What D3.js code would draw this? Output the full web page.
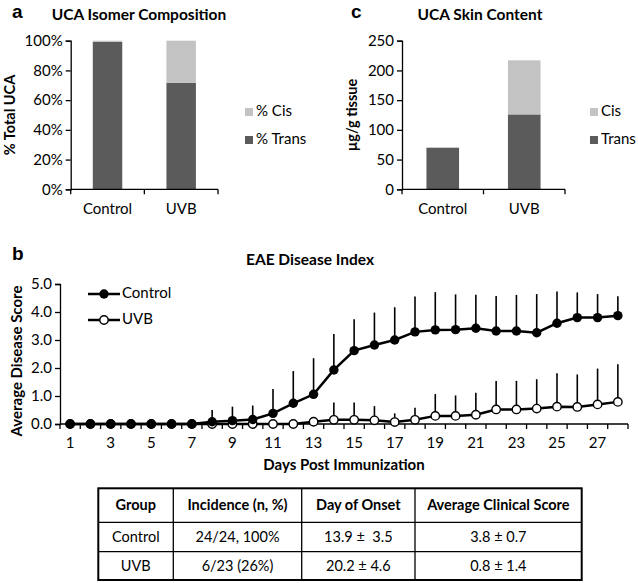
<!DOCTYPE html>
<html><head><meta charset="utf-8">
<script src="https://cdn.jsdelivr.net/npm/d3@7"></script>
<style>
body{margin:0;background:#fff;}
svg{display:block;font-family:Lato,"Open Sans",sans-serif;}
</style></head>
<body>
<svg id="chart" width="638" height="583"></svg>
<script>
// ---------- Data ----------
const groups = ["Control", "UVB"];
const isomerTrans = [0.993, 0.717];
const isomerCis = [0.007, 0.283];
const contentTrans = [70, 126];
const contentCis = [0, 91];
const pctTicks = [0, 0.2, 0.4, 0.6, 0.8, 1.0];
const contentTicks = [0, 50, 100, 150, 200, 250];

const days = d3.range(1, 29);
const controlMean = [0,0,0,0,0,0,0,0.08,0.12,0.16,0.38,0.74,1.06,1.93,2.62,2.82,3.0,3.29,3.36,3.37,3.42,3.32,3.32,3.26,3.6,3.8,3.8,3.87];
const controlErr  = [0,0,0,0,0,0,0,0.42,0.5,0.5,0.87,1.15,1.29,1.28,1.12,1.16,1.17,1.26,1.35,1.26,1.2,1.25,1.29,1.38,1.13,0.9,0.84,0.69];
const uvbMean = [0,0,0,0,0,0,0,0,0,0,0,0,0.08,0.15,0.15,0.13,0.07,0.15,0.29,0.29,0.33,0.52,0.52,0.55,0.62,0.61,0.70,0.79];
const uvbErr  = [0,0,0,0,0,0,0,0,0,0,0,0,0.06,0.62,0.62,0.51,0.31,0.43,0.78,0.73,0.79,1.02,1.02,1.05,1.19,1.16,1.28,1.34];
const scoreTicks = [0,1,2,3,4,5];

const tableHeader = ["Group", "Incidence (n, %)", "Day of Onset", "Average Clinical Score"];
const tableRows = [
  ["Control", "24/24, 100%", "13.9 \u00b1  3.5", "3.8 \u00b1 0.7"],
  ["UVB", "6/23 (26%)", "20.2 \u00b1 4.6", "0.8 \u00b1 1.4"]
];

const DARK = "#5b5b5b", LIGHT = "#c3c3c3";
const FS = 15;
const svg = d3.select("#chart");

function boldText(x, y, t, size, anchor) {
  return svg.append("text").attr("x", x).attr("y", y).attr("font-size", size)
    .attr("font-weight", "bold").attr("text-anchor", anchor || "middle")
    .attr("dominant-baseline", "middle").text(t);
}

// ---------- Stacked bar panel ----------
function barPanel(opt) {
  const g = svg.append("g");
  const y = d3.scaleLinear().domain(opt.domain).range([189.3, 40.7]);
  const x = d3.scaleBand().domain(groups).range(opt.xr).paddingInner(0.6).paddingOuter(0.3);
  groups.forEach((grp, i) => {
    const t = opt.trans[i], c = opt.cis[i];
    g.append("rect").attr("x", x(grp)).attr("width", x.bandwidth())
      .attr("y", y(t)).attr("height", y(0) - y(t)).attr("fill", DARK);
    if (c > 0) g.append("rect").attr("x", x(grp)).attr("width", x.bandwidth())
      .attr("y", y(t + c)).attr("height", y(t) - y(t + c)).attr("fill", LIGHT);
  });
  const ya = g.append("g").attr("transform", `translate(${opt.xr[0]},0)`)
    .call(d3.axisLeft(y).tickValues(opt.ticks).tickFormat(opt.fmt).tickSize(5).tickPadding(3));
  ya.selectAll("text").attr("font-size", FS).attr("fill", "#000").attr("font-family", "Lato,sans-serif");
  ya.selectAll("line,path").attr("stroke", "#000").attr("stroke-width", 1.3);
  const xa = g.append("g");
  xa.append("line").attr("x1", opt.xr[0]).attr("x2", opt.xr[1]).attr("y1", y(0)).attr("y2", y(0))
    .attr("stroke", "#000").attr("stroke-width", 1.3);
  const bounds = [opt.xr[0], (opt.xr[0] + opt.xr[1]) / 2, opt.xr[1]];
  bounds.forEach(b => xa.append("line").attr("x1", b).attr("x2", b).attr("y1", y(0)).attr("y2", y(0) + 5)
    .attr("stroke", "#000").attr("stroke-width", 1.3));
  groups.forEach(grp => svg.append("text").attr("x", x(grp) + x.bandwidth() / 2).attr("y", 210)
    .attr("font-size", FS).attr("text-anchor", "middle").attr("dominant-baseline", "middle").text(grp));
  boldText(opt.letterX, 13, opt.letter, 19, "start").attr("font-family", "Liberation Sans, Arial, sans-serif");
  boldText(opt.titleX, 16, opt.title, 15.5);
  svg.append("text").attr("transform", `translate(${opt.yTitleX},115) rotate(-90)`)
    .attr("font-size", 14.5).attr("font-weight", "bold").attr("text-anchor", "middle")
    .attr("dominant-baseline", "middle").text(opt.yTitle);
  [[opt.legend[0], LIGHT, 112], [opt.legend[1], DARK, 140]].forEach(([lab, col, ly]) => {
    svg.append("rect").attr("x", opt.legX).attr("y", ly - 4).attr("width", 8).attr("height", 8).attr("fill", col);
    svg.append("text").attr("x", opt.legX + 11).attr("y", ly).attr("font-size", FS)
      .attr("dominant-baseline", "middle").text(lab);
  });
}

barPanel({domain: [0, 1], xr: [70.7, 218], trans: isomerTrans, cis: isomerCis, ticks: pctTicks,
  fmt: d3.format(".0%"), letter: "a", letterX: 12, title: "UCA Isomer Composition", titleX: 139,
  yTitle: "% Total UCA", yTitleX: 11, legend: ["% Cis", "% Trans"], legX: 245});
barPanel({domain: [0, 250], xr: [402, 565], trans: contentTrans, cis: contentCis, ticks: contentTicks,
  fmt: d3.format("d"), letter: "c", letterX: 351, title: "UCA Skin Content", titleX: 480,
  yTitle: "\u00b5g/g tissue", yTitleX: 353, legend: ["Cis", "Trans"], legX: 590});

// ---------- Line panel ----------
const xs = d3.scaleLinear().domain([0.5, 28.5]).range([60, 628]);
const ys = d3.scaleLinear().domain([0, 5]).range([424, 284]);
const gb = svg.append("g");

boldText(12, 255, "b", 19, "start").attr("font-family", "Liberation Sans, Arial, sans-serif");
boldText(310, 261, "EAE Disease Index", 15.5);
svg.append("text").attr("transform", "translate(18,361) rotate(-90)")
  .attr("font-size", 15).attr("font-weight", "bold").attr("text-anchor", "middle")
  .attr("dominant-baseline", "middle").text("Average Disease Score");
boldText(344, 466, "Days Post Immunization", 15);

const yab = gb.append("g").attr("transform", "translate(60,0)")
  .call(d3.axisLeft(ys).tickValues(scoreTicks).tickFormat(d3.format(".1f")).tickSize(5).tickPadding(3));
yab.selectAll("text").attr("font-size", FS).attr("fill", "#000").attr("font-family", "Lato,sans-serif");
yab.selectAll("line,path").attr("stroke", "#000").attr("stroke-width", 1.3);

const xab = gb.append("g").attr("transform", `translate(0,${ys(0)})`);
xab.append("line").attr("x1", xs(0.5)).attr("x2", xs(28.5)).attr("stroke", "#000").attr("stroke-width", 1.5);
d3.range(0.5, 29, 1).forEach(b => xab.append("line").attr("x1", xs(b)).attr("x2", xs(b))
  .attr("y1", 0).attr("y2", 5).attr("stroke", "#000").attr("stroke-width", 1.3));
days.filter(d => d % 2 === 1).forEach(d => xab.append("text").attr("x", xs(d)).attr("y", 20)
  .attr("font-size", FS).attr("text-anchor", "middle").attr("dominant-baseline", "middle").text(d));

function series(mean, err, filled) {
  const pts = days.map((d, i) => ({d, m: mean[i], e: err[i]}));
  gb.append("g").selectAll("line").data(pts.filter(p => p.e > 0)).join("line")
    .attr("x1", p => xs(p.d)).attr("x2", p => xs(p.d))
    .attr("y1", p => ys(p.m)).attr("y2", p => ys(p.m + p.e))
    .attr("stroke", "#000").attr("stroke-width", 1.6);
  gb.append("path").datum(pts).attr("fill", "none").attr("stroke", "#000").attr("stroke-width", 2.5)
    .attr("d", d3.line().x(p => xs(p.d)).y(p => ys(p.m)));
  gb.append("g").selectAll("circle").data(pts).join("circle")
    .attr("cx", p => xs(p.d)).attr("cy", p => ys(p.m)).attr("r", filled ? 4.7 : 4.2)
    .attr("fill", filled ? "#000" : "#fff").attr("stroke", "#000").attr("stroke-width", filled ? 0 : 1.4);
}
series(uvbMean, uvbErr, false);
series(controlMean, controlErr, true);

[["Control", 294, true], ["UVB", 320, false]].forEach(([lab, ly, filled]) => {
  svg.append("line").attr("x1", 88).attr("x2", 120).attr("y1", ly).attr("y2", ly)
    .attr("stroke", "#000").attr("stroke-width", 2.5);
  svg.append("circle").attr("cx", 104).attr("cy", ly).attr("r", filled ? 4.7 : 4.2)
    .attr("fill", filled ? "#000" : "#fff").attr("stroke", "#000").attr("stroke-width", filled ? 0 : 1.4);
  svg.append("text").attr("x", 122).attr("y", ly).attr("font-size", FS)
    .attr("dominant-baseline", "middle").text(lab);
});

// ---------- Table ----------
const colX = [98.3, 173.3, 301.7, 415, 581.7];
const rowY = [488.3, 522.3, 551.7, 580];
const tg = svg.append("g");
rowY.slice(1, -1).forEach(yy => tg.append("line").attr("x1", colX[0]).attr("x2", colX[4])
  .attr("y1", yy).attr("y2", yy).attr("stroke", "#000").attr("stroke-width", 1.3));
colX.slice(1, -1).forEach(xx => tg.append("line").attr("x1", xx).attr("x2", xx)
  .attr("y1", rowY[0]).attr("y2", rowY[3]).attr("stroke", "#000").attr("stroke-width", 1.3));
tg.append("rect").attr("x", colX[0]).attr("y", rowY[0]).attr("width", colX[4] - colX[0])
  .attr("height", rowY[3] - rowY[0]).attr("fill", "none").attr("stroke", "#000").attr("stroke-width", 2);
const allRows = [tableHeader].concat(tableRows);
allRows.forEach((row, r) => row.forEach((cell, c) => {
  tg.append("text").attr("x", (colX[c] + colX[c + 1]) / 2).attr("y", (rowY[r] + rowY[r + 1]) / 2 + 1)
    .attr("font-size", 14.5).attr("font-weight", r === 0 ? "bold" : "normal")
    .attr("text-anchor", "middle").attr("dominant-baseline", "middle")
    .style("white-space", "pre").text(cell);
}));
</script>
</body></html>
